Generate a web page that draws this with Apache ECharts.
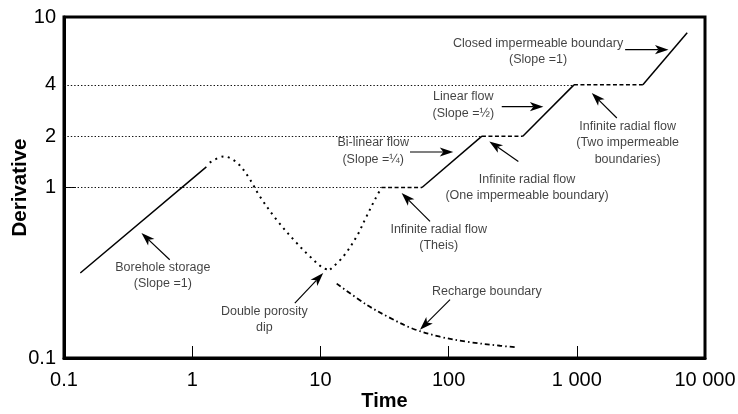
<!DOCTYPE html>
<html>
<head>
<meta charset="utf-8">
<script src="https://cdn.jsdelivr.net/npm/echarts@6/dist/echarts.min.js"></script>
<style>
  html, body { margin: 0; padding: 0; background: #fff; }
  #chart { width: 738px; height: 414px; }
</style>
</head>
<body>
<div id="chart"></div>
<script>
// Reference derivative levels and how far each guide line runs along the time axis
const guideLevels = [1, 2, 4];
const guideEnds = [30, 182, 950];

// Derivative response segments, as [time, derivative]
const boreholeStorage = [[0.134, 0.315], [1.29, 1.32]];
const porosityHump = [[1.37, 1.40], [1.765, 1.52], [2.23, 1.40], [2.73, 1.16], [3.37, 0.887],
  [4.55, 0.647], [6.52, 0.473], [8.28, 0.394], [10.5, 0.337], [11.9, 0.330]];
const porosityRecovery = [[11.9, 0.330], [15.1, 0.394], [19.2, 0.517], [22.9, 0.677], [26.6, 0.848], [30, 1.0]];
const theisPlateau = [[30, 1], [62, 1]];
const bilinearFlow = [[62, 1], [182, 2]];
const oneBoundaryPlateau = [[182, 2], [379, 2]];
const linearFlow = [[379, 2], [950, 4]];
const twoBoundaryPlateau = [[950, 4], [3276, 4]];
const closedBoundary = [[3276, 4], [7262, 8.09]];
const rechargeBoundary = [[13.4, 0.273], [22.9, 0.2055], [34.9, 0.172], [52.7, 0.1485], [85.7, 0.1333],
  [139, 0.1246], [252, 0.118], [330, 0.1157]];

// Annotation texts, centred on [time, derivative]
const noteTexts = [
  'Borehole storage\n(Slope =1)',
  'Double porosity\ndip',
  'Recharge boundary',
  'Infinite radial flow\n(Theis)',
  'Bi-linear flow\n(Slope =\u00BC)',
  'Linear flow\n(Slope =\u00BD)',
  'Infinite radial flow\n(One impermeable boundary)',
  'Infinite radial flow\n(Two impermeable\nboundaries)',
  'Closed impermeable boundary\n(Slope =1)'
];
const noteAnchors = [[0.59, 0.304], [3.655, 0.168], [198.7, 0.246], [83.7, 0.508], [25.8, 1.637],
  [130.3, 3.038], [409.3, 0.997], [2493, 1.831], [498.6, 6.258]];
// Pointer arrows: tail and head, as [time, derivative]
const arrowTails = [[0.668, 0.377], [6.32, 0.210], [102.6, 0.220], [71.6, 0.633], [50, 1.615],
  [259.8, 2.978], [350.1, 1.422], [2053, 2.556], [2382, 6.43]];
const arrowHeads = [[0.402, 0.541], [10.52, 0.315], [59.8, 0.1466], [43.0, 0.928], [108.8, 1.615],
  [548.8, 2.978], [207.8, 1.864], [1309, 3.583], [5190, 6.43]];

const FONT = '"Liberation Sans", Arial, Helvetica, sans-serif';
const INK = '#000';

function segment(data, type, width) {
  return {
    type: 'line', data: data, symbol: 'none', silent: true, animation: false, z: 3,
    lineStyle: { color: INK, width: width, type: type, cap: 'butt' }
  };
}

function groupThousands(v) {
  const s = String(Math.round(v * 1000) / 1000);
  return s.indexOf('.') >= 0 ? s : s.replace(/\B(?=(\d{3})+(?!\d))/g, ' ');
}

// Pointer arrow: a thin shaft ending in a filled, notched head
function renderArrow(params, api) {
  const a = api.coord([api.value(0), api.value(1)]);
  const b = api.coord([api.value(2), api.value(3)]);
  const dx = b[0] - a[0], dy = b[1] - a[1];
  const len = Math.hypot(dx, dy) || 1;
  const ux = dx / len, uy = dy / len, nx = -uy, ny = ux;
  const headLen = 13.5, halfWidth = 4.6, notch = 3.5;
  const base = [b[0] - ux * headLen, b[1] - uy * headLen];
  const back = [b[0] - ux * (headLen - notch), b[1] - uy * (headLen - notch)];
  return {
    type: 'group',
    children: [
      { type: 'line', shape: { x1: a[0], y1: a[1], x2: back[0], y2: back[1] },
        style: { stroke: INK, lineWidth: 1.2 } },
      { type: 'polygon', shape: { points: [b, [base[0] + nx * halfWidth, base[1] + ny * halfWidth], back,
          [base[0] - nx * halfWidth, base[1] - ny * halfWidth]] },
        style: { fill: INK } }
    ]
  };
}

const chart = echarts.init(document.getElementById('chart'), null, { renderer: 'canvas' });
chart.setOption({
  backgroundColor: '#fff',
  animation: false,
  grid: {
    left: 64, top: 17, width: 641, height: 341,
    show: true, borderColor: INK, borderWidth: 3, backgroundColor: 'transparent',
    containLabel: false, outerBoundsMode: 'none'
  },
  xAxis: {
    type: 'log', logBase: 10, min: 0.1, max: 10000,
    name: 'Time', nameLocation: 'middle', nameGap: 33, nameMoveOverlap: false,
    nameTextStyle: { fontFamily: FONT, fontSize: 20, fontWeight: 'bold', color: INK },
    axisLine: { show: true, lineStyle: { color: INK, width: 3 } },
    axisTick: { show: true, inside: true, length: 12, lineStyle: { color: INK, width: 1 } },
    minorTick: { show: false },
    splitLine: { show: false },
    axisLabel: { fontFamily: FONT, fontSize: 20, color: INK, margin: 12, formatter: groupThousands,
      showMinLabel: true, showMaxLabel: true }
  },
  yAxis: {
    type: 'log', logBase: 10, min: 0.1, max: 10,
    name: 'Derivative', nameLocation: 'middle', nameGap: 33, nameMoveOverlap: false,
    nameTextStyle: { fontFamily: FONT, fontSize: 20.5, fontWeight: 'bold', color: INK },
    axisLine: { show: true, lineStyle: { color: INK, width: 3 } },
    axisTick: { show: true, inside: true, length: 12, lineStyle: { color: INK, width: 1 } },
    splitLine: { show: false },
    axisLabel: { fontFamily: FONT, fontSize: 20, color: INK, margin: 8, formatter: groupThousands,
      showMinLabel: true, showMaxLabel: true }
  },
  series: [
    {
      // dotted guide lines at the reference derivative levels
      type: 'line', data: [], silent: true, animation: false, z: 2,
      markLine: {
        silent: true, animation: false, symbol: 'none',
        lineStyle: { color: '#111', width: 1.1, type: [1.4, 2] },
        emphasis: { disabled: true },
        label: {
          show: true, position: 'start', distance: 8,
          fontFamily: FONT, fontSize: 20, color: INK,
          formatter: p => p.name
        },
        data: guideLevels.map((v, i) => [
          { name: v === 1 ? '' : String(v), coord: [0.1, v] },
          { coord: [guideEnds[i], v] }
        ])
      }
    },
    segment(boreholeStorage, 'solid', 1.5),
    Object.assign(segment(porosityHump, [2, 4.5], 2), { smooth: 0.35 }),
    Object.assign(segment(porosityRecovery, [2, 4.5], 2), { smooth: 0.35 }),
    segment(theisPlateau, [4, 2.5], 1.5),
    segment(bilinearFlow, 'solid', 1.5),
    segment(oneBoundaryPlateau, [4, 2.5], 1.5),
    segment(linearFlow, 'solid', 1.5),
    segment(twoBoundaryPlateau, [4, 2.5], 1.5),
    segment(closedBoundary, 'solid', 1.5),
    Object.assign(segment(rechargeBoundary, [5, 3, 1.5, 3], 1.8), { smooth: 0.35 }),
    {
      // annotation texts
      type: 'scatter', silent: true, animation: false, z: 5,
      symbolSize: 1, itemStyle: { color: 'rgba(0,0,0,0)' },
      data: noteAnchors.map((p, i) => ({ value: p, name: noteTexts[i] })),
      label: {
        show: true, position: 'inside', formatter: p => p.name,
        fontFamily: FONT, fontSize: 12.5, lineHeight: 16.5, color: '#111', align: 'center',
        verticalAlign: 'middle'
      }
    },
    {
      // pointer arrows
      type: 'custom', coordinateSystem: 'cartesian2d', silent: true, animation: false, z: 6,
      data: arrowTails.map((t, i) => [t[0], t[1], arrowHeads[i][0], arrowHeads[i][1]]),
      encode: { x: [0, 2], y: [1, 3] },
      renderItem: renderArrow
    }
  ]
});
</script>
</body>
</html>
